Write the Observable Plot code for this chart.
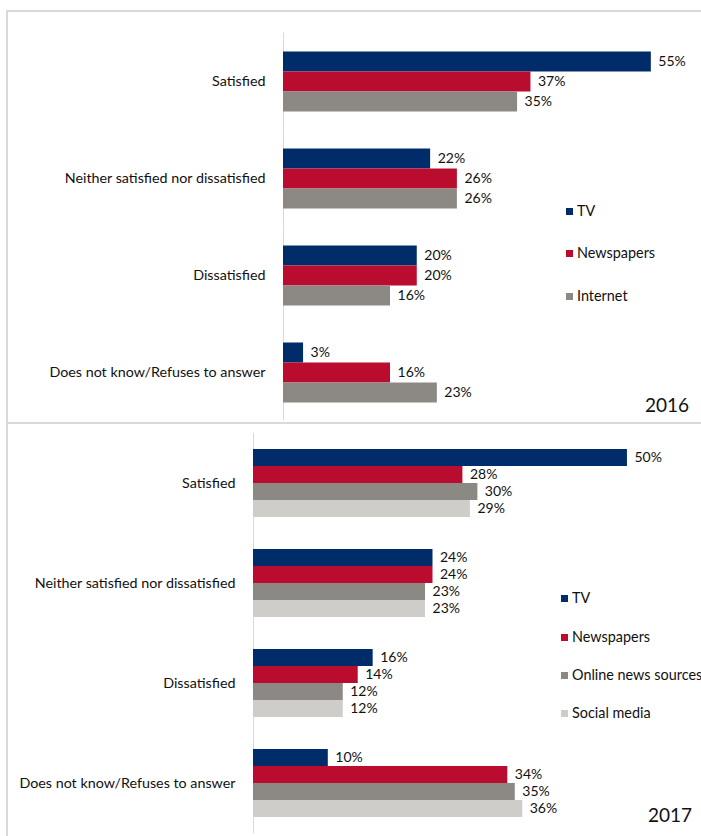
<!DOCTYPE html>
<html><head><meta charset="utf-8">
<script src="https://cdn.jsdelivr.net/npm/d3@7"></script>
<script src="https://cdn.jsdelivr.net/npm/@observablehq/plot@0.6"></script>
<style>
body{margin:0;background:#fff;font-family:Lato,"Open Sans",sans-serif;}
#root{position:relative;width:701px;height:836px;overflow:hidden;background:#fff;}
.line{position:absolute;background:#d9d9d9;}
.leg{position:absolute;font-size:14.4px;color:#111;white-space:nowrap;line-height:16px;}
.leg i{display:inline-block;width:7px;height:7px;margin-right:4px;vertical-align:1px;}
.year{position:absolute;font-size:19px;color:#111;}
</style></head><body><div id="root"></div>
<script>
const categories = ["Satisfied","Neither satisfied nor dissatisfied","Dissatisfied","Does not know/Refuses to answer"];
const series2016 = ["TV","Newspapers","Internet"];
const tv2016 = [55,22,20,3];
const newspapers2016 = [37,26,20,16];
const internet2016 = [35,26,16,23];
const series2017 = ["TV","Newspapers","Online news sources","Social media"];
const tv2017 = [50,24,16,10];
const newspapers2017 = [28,24,14,34];
const online2017 = [30,23,12,35];
const social2017 = [29,23,12,36];
const colors2016 = ["#002d6a","#ba0c2f","#8c8984"];
const colors2017 = ["#002d6a","#ba0c2f","#8c8984","#cfcdc9"];

function rowsOf(series, valueLists){
  const rows=[];
  categories.forEach((c,i)=>series.forEach((s,j)=>rows.push({category:c, series:s, value:valueLists[j][i]})));
  return rows;
}
const rows2016 = rowsOf(series2016,[tv2016,newspapers2016,internet2016]);
const rows2017 = rowsOf(series2017,[tv2017,newspapers2017,online2017,social2017]);

function panel(o){
  return Plot.plot({
    width:701, height:o.height,
    marginLeft:o.left, marginRight:0, marginTop:o.mt, marginBottom:o.mb,
    x:{domain:[0,o.xMax], axis:null},
    y:{domain:o.series, axis:null, padding:0},
    fy:{domain:categories, axis:"left", label:null, tickSize:0, tickPadding:18, paddingInner:o.pad, paddingOuter:0},
    color:{domain:o.series, range:o.colors},
    style:{fontFamily:"Lato, 'Open Sans', sans-serif", fontSize:"14.3px", color:"#111", background:"transparent"},
    marks:[
      Plot.ruleX([0],{stroke:"#d9d9d9", strokeWidth:1, insetTop:-o.ext, insetBottom:-o.ext}),
      Plot.barX(o.rows,{x:"value", y:"series", fy:"category", fill:"series"}),
      Plot.text(o.rows,{x:"value", y:"series", fy:"category", text:d=>d.value+"%", textAnchor:"start", dx:7, fill:"#111", fontSize:14})
    ]
  });
}
const root=document.getElementById("root");
function add(el,css){el.style.position="absolute";Object.assign(el.style,css);root.appendChild(el);return el;}

const p1 = panel({rows:rows2016, series:series2016, colors:colors2016, height:423, left:283, mt:50.5, mb:20.3, xMax:62.5, pad:0.381, ext:18.5});
add(p1,{left:"0px",top:"0px"});
const p2 = panel({rows:rows2017, series:series2017, colors:colors2017, height:412, left:253, mt:23, mb:17, xMax:59.9, pad:0.3046, ext:15.3});
add(p2,{left:"0px",top:"424px"});

function line(css){const d=document.createElement("div");d.className="line";return add(d,css);}
line({left:"6px",top:"10px",width:"2px",height:"826px"});
line({left:"6px",top:"10px",width:"695px",height:"2px"});
line({left:"6px",top:"422px",width:"695px",height:"2px"});

function legend(series,colors,x,ys){
  series.forEach((s,i)=>{
    const d=document.createElement("div");d.className="leg";
    d.innerHTML=`<i style="background:${colors[i]}"></i>${s}`;
    add(d,{left:x+"px",top:(ys[i]-8)+"px"});
  });
}
legend(series2016,colors2016,566,[211,253,296]);
legend(series2017,colors2017,561,[598,637,675,713]);

function year(t,x,y){const d=document.createElement("div");d.className="year";d.textContent=t;add(d,{left:x+"px",top:y+"px"});}
year("2016",645,393);
year("2017",648,803);
</script></body></html>
